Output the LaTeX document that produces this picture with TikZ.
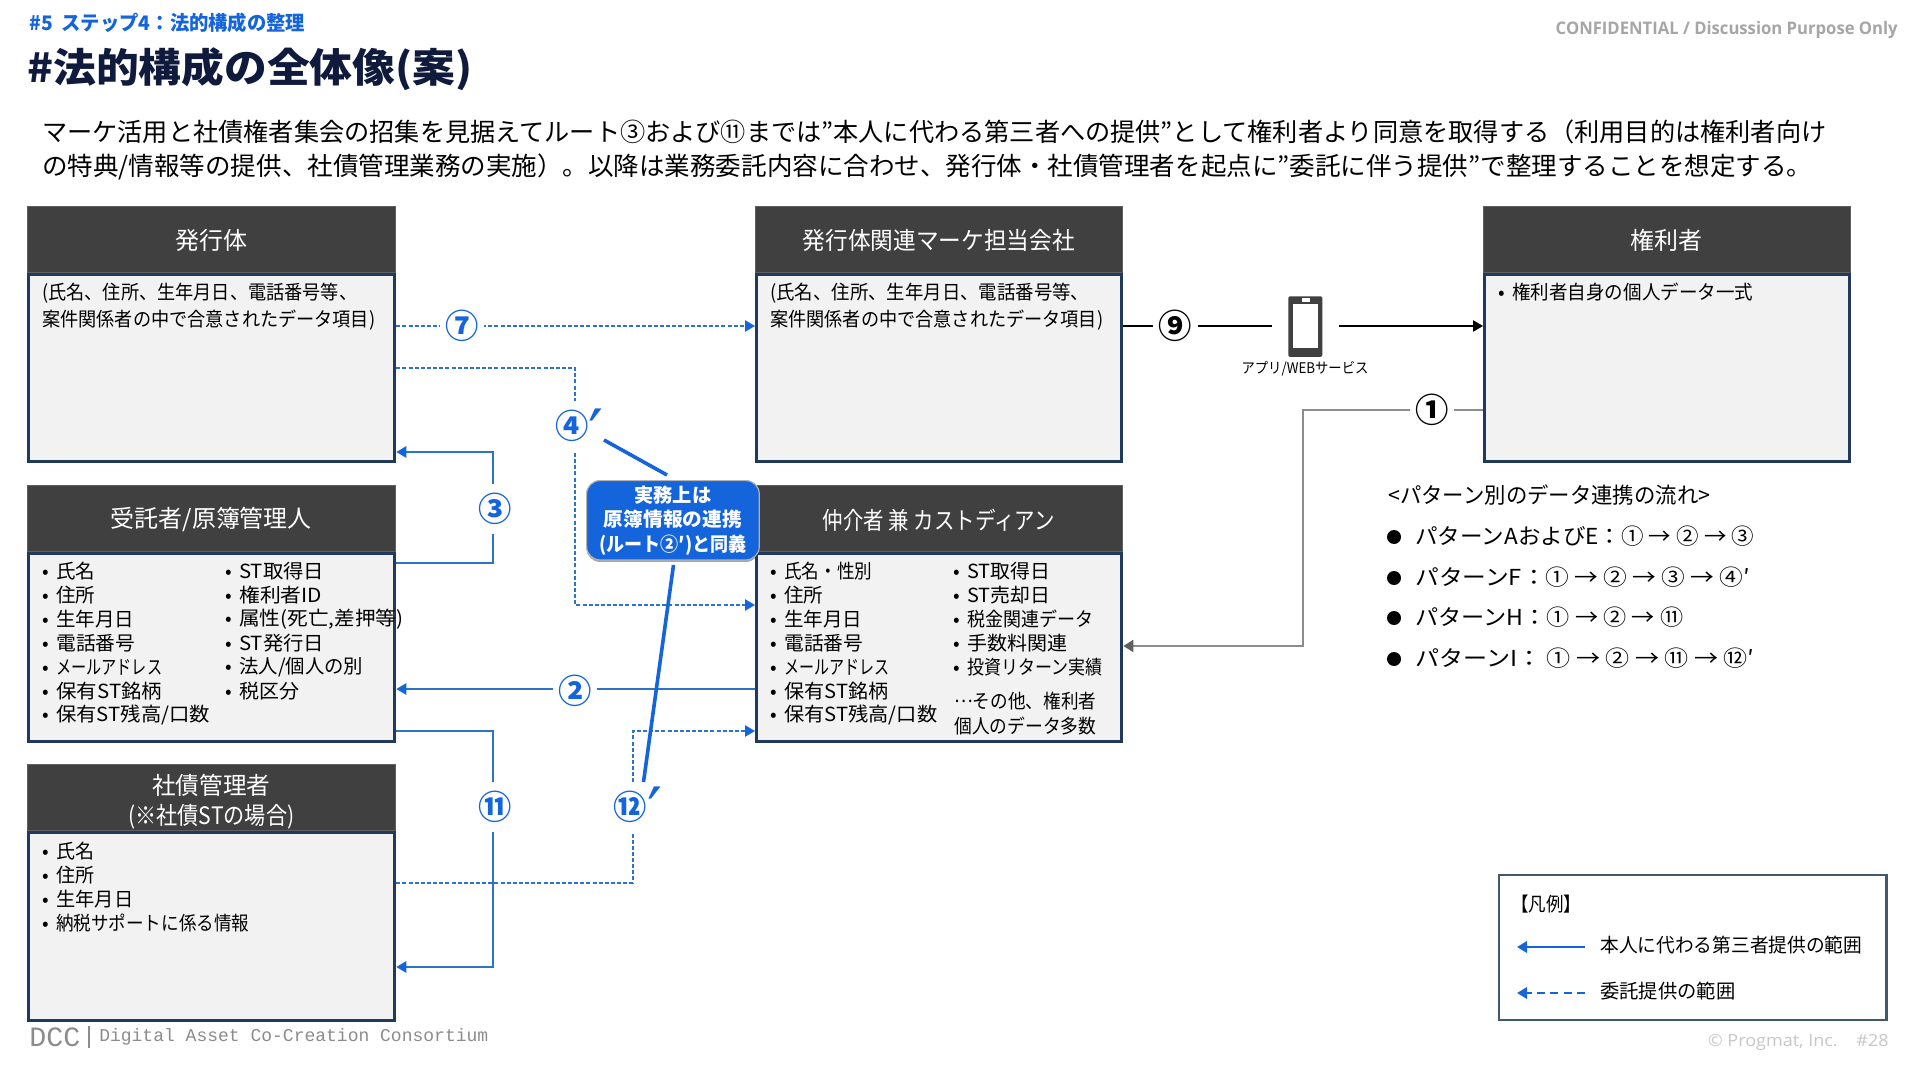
\documentclass[tikz,border=0pt]{standalone}
\usepackage{fontspec}
\usepackage{graphicx}
\setmainfont{Noto Sans CJK JP}
\newfontfamily\lat{Open Sans}
\newfontfamily\mon{Liberation Mono}
\newfontfamily\djv{DejaVu Sans}
\usetikzlibrary{arrows.meta,shadows}
\definecolor{BL}{HTML}{1464DC}
\definecolor{LN}{HTML}{2C74C8}
\definecolor{HD}{HTML}{404040}
\definecolor{HB}{HTML}{5F5F5F}
\definecolor{BD}{HTML}{F2F2F2}
\definecolor{NV}{HTML}{1F3A5A}
\definecolor{TT}{HTML}{0F1A3C}
\newdimen\pxu \pxu=0.75pt
\newcommand{\fw}[2]{\resizebox{#1\pxu}{\height}{#2}}
\newcommand{\bodyf}{\fontsize{14.6}{18}\selectfont}
\newcommand{\headf}{\fontsize{18}{22.5}\selectfont}
\newcommand{\bitem}[5]{\node[txt,font=\bodyf] (#1) at (#2,#3) {\makebox[11\pxu][l]{\hspace{-2.5\pxu}•}\fw{#4}{#5}};}
\newcommand{\plain}[5]{\node[txt,font=\bodyf] (#1) at (#2,#3) {\fw{#4}{#5}};}
% name, x1, x2, ytop, ymid, ybot, header text
\newcommand{\card}[7]{%
 \node[headbox,anchor=north west,minimum width={(#3-#2-1.5)*0.75pt},minimum height={(#5-#4-1)*0.75pt}] (#1H) at (#2,#4) {#7};
 \node[bodybox,anchor=north west,minimum width={(#3-#2-3)*0.75pt},minimum height={(#6-#5-3)*0.75pt}] (#1B) at (#2,#5) {};
}
\tikzset{
 x=0.75pt,y=-0.75pt,
 txt/.style={inner sep=0pt,anchor=west,execute at begin node={\vphantom{漢}}},
 headbox/.style={draw=HB,line width=0.9pt,fill=HD,text=white,inner sep=0pt,align=center,font=\headf},
 bodybox/.style={draw=NV,line width=2.5pt,fill=BD,inner sep=0pt},
 clab/.style={fill=white,inner sep=0pt,minimum width=33.5pt,minimum height=37pt,font=\fontsize{25}{25}\selectfont\bfseries},
 prim/.style={inner sep=0pt,font=\djv\fontsize{50}{50}\selectfont,text=BL},
 tip/.style={-{Triangle[length=7.5pt,width=8.5pt,color=BL]}},
 sol/.style={draw=LN,line width=1.4pt,tip},
 dsh/.style={draw=LN,line width=1.05pt,dash pattern=on 3pt off 1.6pt,tip},
 gline/.style={draw=gray!90,line width=1.6pt,-{Triangle[length=7.5pt,width=9pt,color=HB]}},
 kline/.style={draw=black,line width=1.1pt},
 thickbl/.style={draw=BL,line width=2.7pt},
}
\begin{document}
\begin{tikzpicture}
\useasboundingbox[fill=white] (0,0) rectangle (1920,1080);

% headings
\node[txt,font=\fontsize{15}{18}\selectfont\bfseries,text=BL] (sub) at (29,23) {\fw{276}{\#5\ \ ステップ4：法的構成の整理}};
\node[txt,font=\fontsize{30}{36}\selectfont\bfseries,text=TT] (ttl) at (27,69) {\fw{445}{\#法的構成の全体像(案)}};
\node[inner sep=0pt,anchor=east,font=\lat\fontsize{13}{16}\selectfont\bfseries,text=black!35] (conf) at (1898,30) {\fw{342}{CONFIDENTIAL / Discussion Purpose Only}};
\node[txt,font=\fontsize{19}{24}\selectfont] (p1) at (42,132) {\fw{1784}{マーケ活用と社債権者集会の招集を見据えてルート③および⑪までは”本人に代わる第三者への提供”として権利者より同意を取得する（利用目的は権利者向け}};
\node[txt,font=\fontsize{19}{24}\selectfont] (p2) at (42,167) {\fw{1770}{の特典/情報等の提供、社債管理業務の実施）。以降は業務委託内容に合わせ、発行体・社債管理者を起点に”委託に伴う提供”で整理することを想定する。}};

% cards
\card{iss}{27}{396}{206}{273}{463}{\rule{0pt}{16.5pt}\fw{72}{発行体}}
\card{mkt}{755}{1123}{206}{273}{463}{\rule{0pt}{16.5pt}\fw{272}{発行体関連マーケ担当会社}}
\card{hol}{1483}{1851}{206}{273}{463}{\rule{0pt}{16.5pt}\fw{72}{権利者}}
\card{tru}{27}{396}{485}{551.5}{743}{\rule{0pt}{17.5pt}\fw{201}{受託者/原簿管理人}}
\card{brk}{755}{1123}{485}{551.5}{743}{\rule{0pt}{17.5pt}\fw{232}{仲介者 兼 カストディアン}}
\card{adm}{27}{396}{764}{831}{1021.5}{\rule{0pt}{21pt}\fw{118}{社債管理者}\\[0pt]\fw{166}{(※社債STの場合)}}

% card bodies
\plain{i1}{42}{293}{315}{(氏名、住所、生年月日、電話番号等、}
\plain{i2}{42}{320}{333}{案件関係者の中で合意されたデータ項目)}
\plain{m1}{770}{293}{319}{(氏名、住所、生年月日、電話番号等、}
\plain{m2}{770}{320}{333}{案件関係者の中で合意されたデータ項目)}
\bitem{h1}{1501}{292}{241}{権利者自身の個人データ一式}

\bitem{t1}{45}{571}{39}{氏名}
\bitem{t2}{45}{595}{39}{住所}
\bitem{t3}{45}{619}{78}{生年月日}
\bitem{t4}{45}{643}{79}{電話番号}
\bitem{t5}{45}{667}{106}{メールアドレス}
\bitem{t6}{45}{691}{106}{保有ST銘柄}
\bitem{t7}{45}{715}{154}{保有ST残高/口数}
\bitem{u1}{228}{571}{85}{ST取得日}
\bitem{u2}{228}{595}{83}{権利者ID}
\bitem{u3}{228}{619}{164}{属性(死亡,差押等)}
\bitem{u4}{228}{643}{85}{ST発行日}
\bitem{u5}{228}{667}{124}{法人/個人の別}
\bitem{u6}{228}{691}{60}{税区分}

\bitem{b1}{773}{571}{88}{氏名・性別}
\bitem{b2}{773}{595}{39}{住所}
\bitem{b3}{773}{619}{78}{生年月日}
\bitem{b4}{773}{643}{79}{電話番号}
\bitem{b5}{773}{667}{105}{メールアドレス}
\bitem{b6}{773}{691}{104}{保有ST銘柄}
\bitem{b7}{773}{715}{153}{保有ST残高/口数}
\bitem{c1}{956}{571}{83}{ST取得日}
\bitem{c2}{956}{595}{83}{ST売却日}
\bitem{c3}{956}{619}{126}{税金関連データ}
\bitem{c4}{956}{643}{100}{手数料関連}
\bitem{c5}{956}{667}{135}{投資リターン実績}
\plain{c6}{954}{701}{142}{\raisebox{0.3em}{…}その他、権利者}
\plain{c7}{954}{726}{142}{個人のデータ多数}

\bitem{a1}{45}{851}{38}{氏名}
\bitem{a2}{45}{875}{38}{住所}
\bitem{a3}{45}{899}{77}{生年月日}
\bitem{a4}{45}{923}{193}{納税サポートに係る情報}

% bend points
\coordinate (n4a) at (575,368);
\coordinate (n4b) at (575,605);
\coordinate (n3a) at (493,563);
\coordinate (n3b) at (493,452);
\coordinate (n11a) at (493,731);
\coordinate (n11b) at (493,967);
\coordinate (n12a) at (633,883);
\coordinate (n12b) at (633,731);
\coordinate (n1a) at (1303,410);
\coordinate (n1b) at (1303,646);
\coordinate (y7) at (0,326);
\coordinate (y2) at (0,689);

% connectors
\draw[dsh] (issB.east |- y7) -- (mktB.west |- y7);
\draw[dsh] (issB.east |- n4a) -- (n4a) -- (n4b) -- (brkB.west |- n4b);
\draw[sol] (truB.east |- n3a) -- (n3a) -- (n3b) -- (issB.east |- n3b);
\draw[sol] (brkB.west |- y2) -- (truB.east |- y2);
\draw[sol] (truB.east |- n11a) -- (n11a) -- (n11b) -- (admB.east |- n11b);
\draw[dsh] (admB.east |- n12a) -- (n12a) -- (n12b) -- (brkB.west |- n12b);
\draw[gline] (holB.west |- n1a) -- (n1a) -- (n1b) -- (brkB.east |- n1b);

% phone
\node[inner sep=0pt,fill=HD,rounded corners=1.5pt,anchor=north west,minimum width=25.5pt,minimum height=45.5pt] (phone) at (1288,296) {};
\node[inner sep=0pt,fill=white,anchor=north west,minimum width=18.7pt,minimum height=33pt] (screen) at (1293,304) {};
\node[inner sep=0pt,fill=white,minimum width=6pt,minimum height=2.4pt] (spk) at (1305.5,300) {};
\node[inner sep=0pt,font=\fontsize{11}{13}\selectfont] (applbl) at (1305,369) {\fw{127}{アプリ/WEBサービス}};
\draw[kline] (mktB.east |- y7) -- ([xshift=-12pt]phone.west |- y7);
\draw[kline,-{Triangle[length=7.5pt,width=8.5pt]}] ([xshift=12.5pt]phone.east |- y7) -- (holB.west |- y7);

% circled labels
\node[clab,text=BL] (l7) at (462,326) {⑦};
\node[clab,text=BL] (l4) at (572,426) {④};
\node[prim] (l4p) at (596,433) {′};
\node[clab,text=BL] (l3) at (495,509) {③};
\node[clab,text=BL] (l2) at (575,691) {②};
\node[clab,text=BL] (l11) at (495,807) {⑪};
\node[clab,text=BL] (l12) at (630,807) {⑫};
\node[prim] (l12p) at (655,811) {′};
\node[clab,text=black] (l9) at (1175.5,326) {⑨};
\node[clab,text=black] (l1) at (1432,410) {①};

% callout
\node[inner sep=0pt,anchor=north west,fill=BL,draw=black!30,line width=0.9pt,rounded corners=10pt,
  minimum width=129.5pt,minimum height=59.5pt,align=center,text=white,
  drop shadow={shadow xshift=0pt,shadow yshift=-1.5pt,opacity=0.35,fill=black},
  font=\fontsize{14.5}{18.4}\selectfont\bfseries] (call) at (586,480)
  {\raisebox{-1.3\pxu}{\fw{77}{実務上は}}\\\raisebox{-1.3\pxu}{\fw{138}{原簿情報の連携}}\\\raisebox{-1.3\pxu}{\fw{147}{(ルート②′)と同義}}};
\coordinate (p4s) at (604,440);
\coordinate (p12e) at (643.5,782);
\draw[thickbl] (p4s) -- (667,475);
\draw[thickbl] (673.5,565) -- (p12e);

% pattern list
\node[txt,font=\fontsize{16.5}{20}\selectfont] (pt0) at (1388,495) {\fw{322}{<パターン別のデータ連携の流れ>}};
\node[inner sep=0pt,circle,fill=black,minimum size=10.5pt] (d1) at (1394,537) {};
\node[inner sep=0pt,circle,fill=black,minimum size=10.5pt] (d2) at (1394,578) {};
\node[inner sep=0pt,circle,fill=black,minimum size=10.5pt] (d3) at (1394,618) {};
\node[inner sep=0pt,circle,fill=black,minimum size=10.5pt] (d4) at (1394,659) {};
\node[txt,font=\fontsize{16.5}{20}\selectfont] (pt1) at (1415,536) {\fw{339}{パターンAおよびE：① → ② → ③}};
\node[txt,font=\fontsize{16.5}{20}\selectfont] (pt2) at (1415,577) {\fw{335}{パターンF：① → ② → ③ → ④′}};
\node[txt,font=\fontsize{16.5}{20}\selectfont] (pt3) at (1415,617) {\fw{268}{パターンH：① → ② → ⑪}};
\node[txt,font=\fontsize{16.5}{20}\selectfont] (pt4) at (1415,658) {\fw{339}{パターンI： ① → ② → ⑪ → ⑫′}};

% legend
\node[inner sep=0pt,anchor=north west,draw=NV!85,line width=1.7pt,fill=white,minimum width=290.5pt,minimum height=108.5pt] (leg) at (1498,874) {};
\node[txt,font=\bodyf] (lg0) at (1511,904) {\fw{70}{【凡例】}};
\node[txt,font=\bodyf] (lg1) at (1600,945) {\fw{262}{本人に代わる第三者提供の範囲}};
\node[txt,font=\bodyf] (lg2) at (1600,991) {\fw{135}{委託提供の範囲}};
\coordinate (la1) at (1585,947);
\coordinate (la2) at (1585,993);
\coordinate (la0) at (1517,947);
\draw[draw=BL,line width=1.9pt,tip] (la1) -- (la0);
\draw[draw=BL,line width=1.9pt,dash pattern=on 6pt off 4pt,tip] (la2) -- (la2 -| la0);

% footer
\node[inner sep=0pt,anchor=west,font=\mon\fontsize{21}{24}\selectfont,text=black!45] (dcc) at (29,1037) {\fw{51}{DCC}};
\node[inner sep=0pt,fill=black!45,minimum width=1.5pt,minimum height=16.5pt] (bar) at (89,1037) {};
\node[inner sep=0pt,anchor=west,font=\mon\fontsize{13.5}{16}\selectfont,text=black!45] (dgt) at (99,1037) {\fw{389}{Digital Asset Co-Creation Consortium}};
\node[inner sep=0pt,anchor=east,font=\lat\fontsize{12.5}{15}\selectfont,text=black!22] (cpr) at (1889,1042) {\fw{181}{© Progmat, Inc.\ \ \ \ \#28}};
\end{tikzpicture}
\end{document}
